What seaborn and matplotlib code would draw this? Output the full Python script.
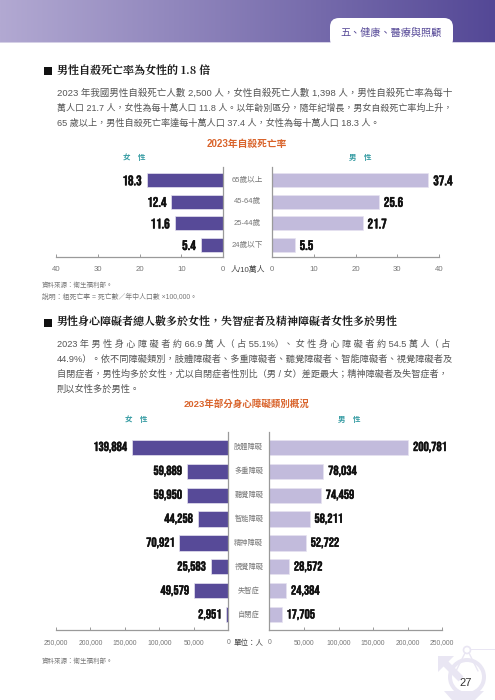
import numpy as np
import matplotlib
matplotlib.use('Agg')
import matplotlib.pyplot as plt
import matplotlib.patheffects as pe
import seaborn as sns
from matplotlib.patches import FancyBboxPatch, Rectangle, Circle, Wedge, Polygon
from matplotlib.transforms import blended_transform_factory

# 自殺死亡率
suicide_ages = ['65歲以上', '45-64歲', '25-44歲', '24歲以下']
suicide_female = [18.3, 12.4, 11.6, 5.4]
suicide_male = [37.4, 25.6, 21.7, 5.5]
suicide_ticks = [0, 10, 20, 30, 40]

# 身心障礙類別
disab_types = ['肢體障礙', '多重障礙', '聽覺障礙', '智能障礙', '精神障礙', '視覺障礙', '失智症', '自閉症']
disab_female = [139884, 59889, 59950, 44258, 70921, 25583, 49579, 2951]
disab_male = [200781, 78034, 74459, 58211, 52722, 28572, 24384, 17705]
disab_ticks = [0, 50000, 100000, 150000, 200000, 250000]

W, H = 495, 700
PURPLE = '#574a98'
LILAC = '#c2bbdc'
ORANGE = '#d9642c'
TEAL = '#3a9ea5'
GRAY = '#777777'
LINE = '#9a9a9a'
SANS = ['Liberation Sans', 'Noto Sans CJK TC', 'DejaVu Sans']
SERIF = ['Noto Serif CJK TC', 'Noto Sans CJK TC', 'DejaVu Sans']
COND = ['Bebas Neue', 'Barlow Condensed', 'Liberation Sans', 'DejaVu Sans']

sns.set_theme(style='white')
plt.rcParams['font.family'] = SANS
plt.rcParams['axes.unicode_minus'] = False

fig = plt.figure(figsize=(W / 100, H / 100), dpi=100, facecolor='white')
renderer = fig.canvas.get_renderer()

# 用像素座標的底層，放頁面元素
page = fig.add_axes([0, 0, 1, 1], zorder=0)
page.set_xlim(0, W)
page.set_ylim(H, 0)
page.axis('off')

# 頁首漸層
c0 = np.array([0xb2, 0xa9, 0xd2]) / 255
c1 = np.array([0x54, 0x48, 0x96]) / 255
t = np.linspace(0, 1, 256)[None, :, None]
page.imshow(c0 + (c1 - c0) * t, extent=[0, W, 42, 0], aspect='auto', zorder=1)
page.set_xlim(0, W)
page.set_ylim(H, 0)
page.add_patch(Rectangle((0, 42), W, 1.2, color='#d5d0e6', lw=0, zorder=1))
page.add_patch(FancyBboxPatch((330, 18), 123, 30, boxstyle='round,pad=0,rounding_size=9', fc='white', ec='none', zorder=2))
page.add_patch(Rectangle((0, 43.2), W, 12, fc='white', ec='none', zorder=2))
page.text(391.5, 33, '五、健康、醫療與照顧', ha='center', va='center', fontsize=7.3, color=PURPLE, zorder=3)

# 右下角浮水印
WM = '#e9e6f3'
page.add_patch(Polygon([(438, 656), (454, 656), (438, 672)], fc=WM, ec='none'))
page.plot([445, 461], [663, 679], color=WM, lw=5, solid_capstyle='butt')
page.add_patch(Wedge((467, 677), 19, 0, 360, width=4, fc=WM, ec='none'))
page.add_patch(Circle((467, 650), 3.5, fc='none', ec=WM, lw=1.2))
page.plot([465, 456], [653, 671], color=WM, lw=1)
page.plot([469, 478], [653, 671], color=WM, lw=1)
page.add_patch(Rectangle((471, 648.5), 24, 1.2, fc=WM, ec='none'))
page.add_patch(Polygon([(444, 691), (484, 691), (475, 700), (452, 700)], fc=WM, ec='none'))
page.text(465.7, 683, '27', ha='center', va='center', fontsize=8, color='#333333')


def fit(txt, x_end):
    # 依參考圖的行尾調整字級
    box = txt.get_window_extent(renderer)
    txt.set_fontsize(txt.get_fontsize() * (x_end - box.x0) / box.width)


def heading(y, text, x_end):
    page.add_patch(Rectangle((43.5, y - 4.5), 8, 8, fc='#111111', ec='none'))
    fit(page.text(57, y, text, ha='left', va='center', fontsize=7.7, fontweight='bold', color='#1a1a1a', family=SERIF), x_end)


def body(y, text, x_end=None):
    txt = page.text(57, y, text, ha='left', va='center', fontsize=6.65, color='#555555')
    if x_end:
        fit(txt, x_end)


heading(71.7, '男性自殺死亡率為女性的 1.8 倍', 209.3)
body(92.7, '2023 年我國男性自殺死亡人數 2,500 人，女性自殺死亡人數 1,398 人，男性自殺死亡率為每十', 452.5)
body(107.7, '萬人口 21.7 人，女性為每十萬人口 11.8 人。以年齡別區分，隨年紀增長，男女自殺死亡率均上升，', 452.5)
body(122.7, '65 歲以上，男性自殺死亡率達每十萬人口 37.4 人，女性為每十萬人口 18.3 人。', 381)

heading(323, '男性身心障礙者總人數多於女性，失智症者及精神障礙者女性多於男性', 395)
body(344.3, '2023 年 男 性 身 心 障 礙 者 約 66.9 萬 人（ 占 55.1%）、 女 性 身 心 障 礙 者 約 54.5 萬 人（ 占', 452.5)
body(359, '44.9%）。依不同障礙類別，肢體障礙者、多重障礙者、聽覺障礙者、智能障礙者、視覺障礙者及', 452.5)
body(374.3, '自閉症者，男性均多於女性，尤以自閉症者性別比（男 / 女）差距最大；精神障礙者及失智症者，', 448)
body(389, '則以女性多於男性。')

page.text(247, 144.3, '2023年自殺死亡率', ha='center', va='center', fontsize=7.0, fontweight='bold', color=ORANGE)
page.text(134, 158, '女\u3000性', ha='center', va='center', fontsize=5.4, fontweight='bold', color=TEAL)
page.text(360.7, 158, '男\u3000性', ha='center', va='center', fontsize=5.4, fontweight='bold', color=TEAL)
page.text(42, 285.7, '資料來源：衛生福利部。', ha='left', va='center', fontsize=4.7, color=GRAY)
fit(page.text(42, 297, '說明：粗死亡率 = 死亡數／年中人口數 ×100,000。', ha='left', va='center', fontsize=4.7, color=GRAY), 195.7)

page.text(246.7, 403.7, '2023年部分身心障礙類別概況', ha='center', va='center', fontsize=6.8, fontweight='bold', color=ORANGE)
page.text(136.7, 420, '女\u3000性', ha='center', va='center', fontsize=5.4, fontweight='bold', color=TEAL)
page.text(349, 420, '男\u3000性', ha='center', va='center', fontsize=5.4, fontweight='bold', color=TEAL)
page.text(42, 661, '資料來源：衛生福利部。', ha='left', va='center', fontsize=4.7, color=GRAY)


def px_axes(x0, x1, y0, y1):
    return fig.add_axes([x0 / W, 1 - y1 / H, (x1 - x0) / W, (y1 - y0) / H], zorder=2, facecolor='none')


def one_side(ax, values, cats, color, ticks, xmax, side, fmt, ylim, bar_w, val_size, tick_size, tick_fmt):
    sns.barplot(x=values, y=cats, ax=ax, color=color, orient='h', width=bar_w, saturation=1,
                edgecolor='#e6e3f0', linewidth=0.5)
    ax.set_ylim(*ylim)
    if side == 'left':
        ax.set_xlim(xmax, 0)
    else:
        ax.set_xlim(0, xmax)
    ax.set_xticks(ticks)
    ax.set_xticklabels([tick_fmt(v) for v in ticks])
    ax.set_xlabel('')
    ax.set_ylabel('')
    ax.set_yticks([])
    sns.despine(ax=ax, left=side == 'left', right=side != 'left', top=True, bottom=False)
    for s in ['left', 'right', 'bottom']:
        ax.spines[s].set_color(LINE)
        ax.spines[s].set_linewidth(0.9)
    ax.tick_params(axis='x', direction='in', length=2, width=0.7, color=LINE, pad=6,
                   labelsize=tick_size, labelcolor=GRAY, bottom=True)
    labels = ax.bar_label(ax.containers[0], labels=[fmt(v) for v in values], padding=3.5, fontsize=val_size,
                          color='#111111', family=COND)
    for lab in labels:
        lab.set_path_effects([pe.withStroke(linewidth=0.3, foreground='#111111')])


def butterfly(cats, female, male, ticks, xmax, lx0, lx1, rx0, rx1, y0, y1, ylim, bar_w, val_size, tick_size,
              tick_fmt, val_fmt, cat_size, unit, unit_size):
    ax_f = px_axes(lx0, lx1, y0, y1)
    ax_m = px_axes(rx0, rx1, y0, y1)
    one_side(ax_f, female, cats, PURPLE, ticks, xmax, 'left', val_fmt, ylim, bar_w, val_size, tick_size, tick_fmt)
    one_side(ax_m, male, cats, LILAC, ticks, xmax, 'right', val_fmt, ylim, bar_w, val_size, tick_size, tick_fmt)
    # 中間的類別文字
    trans = blended_transform_factory(ax_f.transAxes, ax_f.transData)
    mid = 1 + ((lx1 + rx0) / 2 - lx1) / (lx1 - lx0)
    for i, c in enumerate(cats):
        ax_f.text(mid, i, c, transform=trans, ha='center', va='center', fontsize=cat_size, color=GRAY, clip_on=False)
    page.text((lx1 + rx0) / 2, y1 + 12.5, unit, ha='center', va='center', fontsize=unit_size, color='#444444')


butterfly(suicide_ages, suicide_female, suicide_male, suicide_ticks, 40,
          56, 223.3, 271.7, 439.3, 167, 257.3, (3.57, -0.615), 0.65, 10, 5.6, str,
          lambda v: f'{v:.1f}', 5.5, '人/10萬人', 5.7)

butterfly(disab_types, disab_female, disab_male, disab_ticks, 250000,
          56, 228.3, 269.3, 442.3, 431.7, 630.3, (7.65, -0.65), 0.63, 9.4, 4.9, lambda v: f'{v:,}',
          lambda v: f'{v:,}', 5.2, '單位：人', 5.4)

fig.savefig('out.png', dpi=100)
